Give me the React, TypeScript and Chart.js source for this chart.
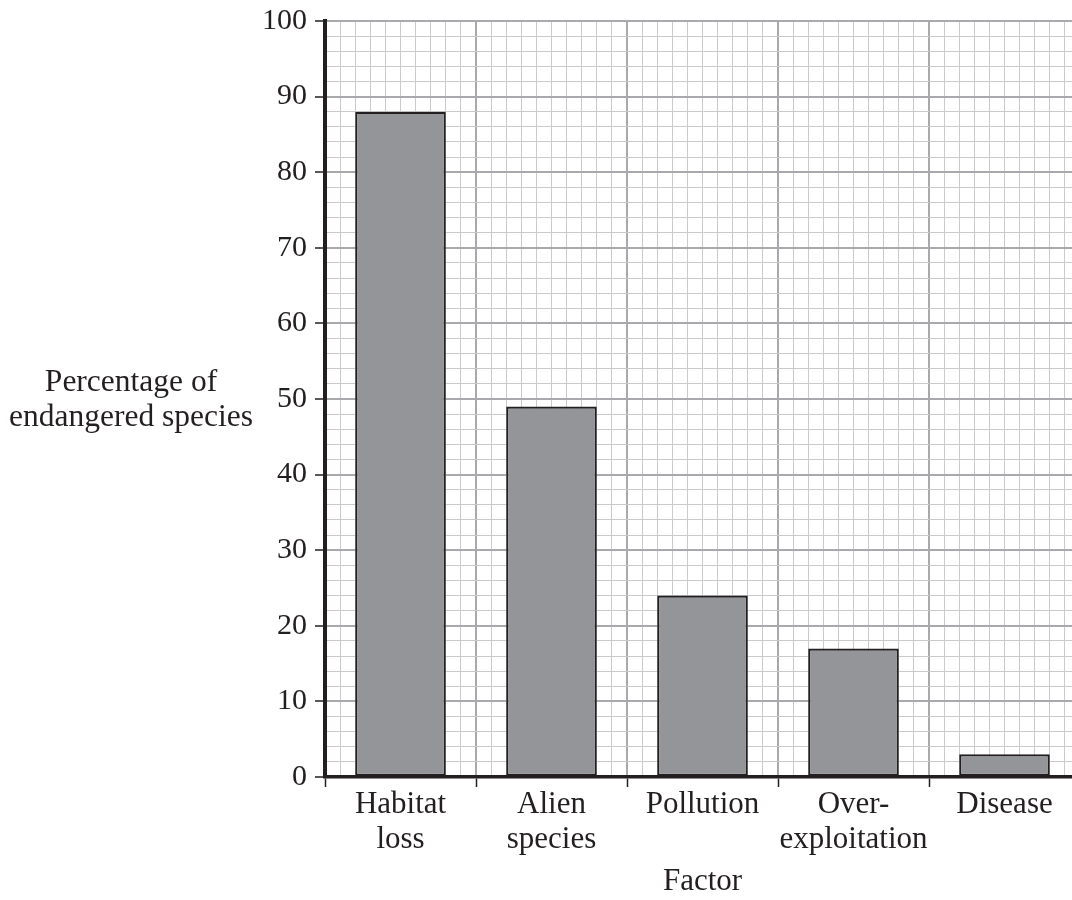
import React, { useEffect, useRef } from "react";
import { Chart, registerables } from "chart.js";

Chart.register(...registerables);

const categories: string[][] = [
  ["Habitat", "loss"],
  ["Alien", "species"],
  ["Pollution"],
  ["Over-", "exploitation"],
  ["Disease"],
];
const percentages: number[] = [88, 49, 24, 17, 3];
const yTickStep = 2;
const yLabelStep = 10;
const yMin = 0;
const yMax = 100;
// each category band is split into 10 small grid squares
const cellsPerCategory = 10;

const INK = "#231f20";
const BAR_FILL = "#939598";
const GRID_MAJOR = "#a7a9ac";
const GRID_MINOR = "#c9cacc";
const FONT = "'Liberation Serif', 'Times New Roman', serif";
const CLEAR = "rgba(0,0,0,0)";

const tv = (ctx: any): number | null =>
  ctx && ctx.tick && typeof ctx.tick.value === "number" ? ctx.tick.value : null;

export default function App() {
  const canvasRef = useRef<HTMLCanvasElement | null>(null);

  useEffect(() => {
    if (!canvasRef.current) return;
    const chart = new Chart(canvasRef.current, {
      type: "bar",
      data: {
        labels: categories,
        datasets: [
          {
            data: percentages,
            backgroundColor: BAR_FILL,
            borderColor: INK,
            borderWidth: 2.2,
            borderSkipped: false,
            barPercentage: 0.6,
            categoryPercentage: 1,
          },
        ],
      },
      options: {
        responsive: false,
        animation: false,
        devicePixelRatio: 1,
        layout: { padding: { top: 21, left: 0, right: 0, bottom: 0 } },
        plugins: {
          legend: { display: false },
          tooltip: { enabled: false },
        },
        scales: {
          x: {
            type: "category",
            position: "bottom",
            offset: true,
            afterFit: (scale: any) => {
              scale.height = 123;
            },
            grid: {
              offset: true,
              drawOnChartArea: false,
              drawTicks: true,
              tickLength: 10,
              tickColor: INK,
              tickWidth: 1.5,
            },
            border: { display: true, color: INK, width: 3.5 },
            ticks: {
              color: INK,
              padding: 0,
              autoSkip: false,
              maxRotation: 0,
              minRotation: 0,
              font: { family: FONT, size: 31, lineHeight: 1.13 },
            },
            title: {
              display: true,
              text: "Factor",
              color: INK,
              padding: { top: 0, bottom: 0 },
              font: { family: FONT, size: 31, lineHeight: 1.2 },
            },
          },
          xg: {
            type: "linear",
            axis: "x",
            position: "top",
            min: 0,
            max: categories.length * cellsPerCategory,
            offset: false,
            display: true,
            ticks: { display: false, stepSize: 1 },
            border: { display: false },
            grid: {
              offset: false,
              drawTicks: false,
              color: (ctx: any) => {
                const v = tv(ctx);
                if (v === null || v === 0) return CLEAR;
                return v % cellsPerCategory === 0 ? GRID_MAJOR : GRID_MINOR;
              },
              lineWidth: (ctx: any) => {
                const v = tv(ctx);
                return v !== null && v % cellsPerCategory === 0 ? 2 : 1;
              },
            },
            afterFit: (scale: any) => {
              scale.height = 0;
              scale.paddingLeft = 0;
              scale.paddingRight = 0;
            },
          },
          y: {
            type: "linear",
            position: "left",
            min: yMin,
            max: yMax,
            afterFit: (scale: any) => {
              scale.width = 325;
              scale.paddingTop = 0;
              scale.paddingBottom = 0;
            },
            ticks: {
              stepSize: yTickStep,
              autoSkip: false,
              color: INK,
              padding: 8,
              font: { family: FONT, size: 30 },
              callback: (v: any) => (Number(v) % yLabelStep === 0 ? String(v) : ""),
            },
            grid: {
              drawTicks: true,
              tickLength: 10,
              tickWidth: 1.5,
              tickColor: (ctx: any) => {
                const v = tv(ctx);
                return v !== null && v % yLabelStep === 0 ? INK : CLEAR;
              },
              color: (ctx: any) => {
                const v = tv(ctx);
                if (v === null || v === 0) return CLEAR;
                return v % yLabelStep === 0 ? GRID_MAJOR : GRID_MINOR;
              },
              lineWidth: (ctx: any) => {
                const v = tv(ctx);
                return v !== null && v % yLabelStep === 0 ? 2 : 1;
              },
            },
            border: { display: true, color: INK, width: 4 },
          },
        },
      },
    });
    return () => chart.destroy();
  }, []);

  return (
    <div
      style={{
        position: "absolute",
        left: 0,
        top: 0,
        width: 1072,
        height: 900,
        overflow: "hidden",
        background: "#ffffff",
      }}
    >
      <canvas
        ref={canvasRef}
        width={1080}
        height={900}
        style={{ position: "absolute", left: 0, top: 0, width: 1080, height: 900 }}
      />
      <div
        style={{
          position: "absolute",
          left: 0,
          top: 363,
          width: 262,
          textAlign: "center",
          fontFamily: FONT,
          fontSize: 31.5,
          lineHeight: "35px",
          color: INK,
        }}
      >
        Percentage of
        <br />
        endangered species
      </div>
    </div>
  );
}
